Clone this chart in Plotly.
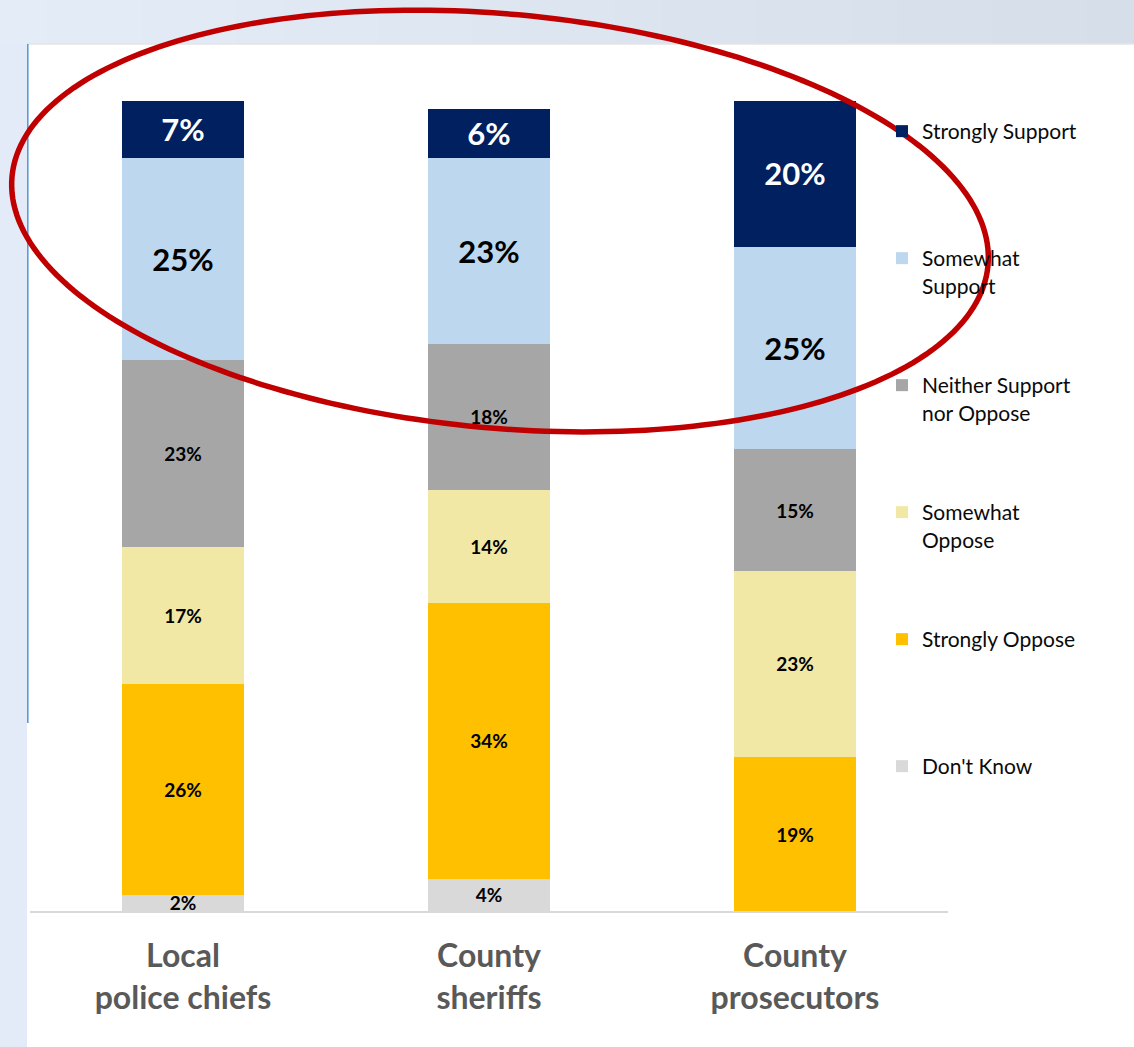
import numpy as np
import plotly.graph_objects as go

# ---------------- data ----------------
categories = ["Local police chiefs", "County sheriffs", "County prosecutors"]
tick_labels = ["Local<br>police chiefs", "County<br>sheriffs", "County<br>prosecutors"]

series_names = ["Strongly Support", "Somewhat Support", "Neither Support nor Oppose",
                "Somewhat Oppose", "Strongly Oppose", "Don't Know"]
legend_names = ["Strongly Support<br> ", "Somewhat<br>Support", "Neither Support<br>nor Oppose",
                "Somewhat<br>Oppose", "Strongly Oppose<br> ", "Don't Know<br> "]

strongly_support = [7, 6, 18.1]
somewhat_support = [25, 23, 25]
neither = [23, 18, 15]
somewhat_oppose = [17, 14, 23]
strongly_oppose = [26, 34, 19]
dont_know = [2, 4, 0]

strongly_support_labels = ["7%", "6%", "20%"]
somewhat_support_labels = ["25%", "23%", "25%"]
neither_labels = ["23%", "18%", "15%"]
somewhat_oppose_labels = ["17%", "14%", "23%"]
strongly_oppose_labels = ["26%", "34%", "19%"]
dont_know_labels = ["2%", "4%", ""]

# ---------------- style ----------------
colors = ["#002060", "#BDD7EE", "#A6A6A6", "#F2E8A5", "#FFC000", "#D9D9D9"]
text_colors = ["white", "black", "black", "black", "black", "black"]
text_sizes = [31, 31, 19, 19, 19, 19]
FONT = "Lato"

W, H = 1134, 1047
ML, MR, MT, MB = 30, 186, 101, 136
PW, PH = W - ML - MR, H - MT - MB


def px_x(px):
    return (px - ML) / PW


def px_y(py):
    return (H - MB - py) / PH


values = [strongly_support, somewhat_support, neither, somewhat_oppose, strongly_oppose, dont_know]
labels = [strongly_support_labels, somewhat_support_labels, neither_labels,
          somewhat_oppose_labels, strongly_oppose_labels, dont_know_labels]

fig = go.Figure()
# add bottom-to-top so the stack order matches
for i in reversed(range(len(series_names))):
    fig.add_trace(go.Bar(
        x=categories,
        y=values[i],
        name=legend_names[i],
        legendgroup=series_names[i],
        legendrank=i + 1,
        marker=dict(color=colors[i], line=dict(width=0)),
        text=labels[i],
        textposition="inside",
        insidetextanchor="middle",
        textangle=0,
        constraintext="none",
        textfont=dict(family=FONT, size=text_sizes[i], color=text_colors[i], weight="bold"),
        hoverinfo="skip",
        width=0.4,
    ))

shapes = []
# page background: top band with slight gradient
n_strips = 24
c0 = np.array([0xE3, 0xEC, 0xF7])
c1 = np.array([0xD6, 0xDE, 0xEA])
for k in range(n_strips):
    f = k / (n_strips - 1)
    c = (c0 * (1 - f) + c1 * f).round().astype(int)
    x0p = k * W / n_strips
    x1p = (k + 1) * W / n_strips + 1
    shapes.append(dict(type="rect", xref="paper", yref="paper",
                       x0=px_x(x0p), x1=px_x(x1p), y0=px_y(44), y1=px_y(0),
                       fillcolor="rgb(%d,%d,%d)" % tuple(c), line=dict(width=0), layer="below"))
# left band
shapes.append(dict(type="rect", xref="paper", yref="paper",
                   x0=px_x(0), x1=px_x(27), y0=px_y(H), y1=px_y(44),
                   fillcolor="#E2EBF7", line=dict(width=0), layer="below"))
# panel top edge
shapes.append(dict(type="line", xref="paper", yref="paper",
                   x0=px_x(27), x1=px_x(W), y0=px_y(44), y1=px_y(44),
                   line=dict(color="#E4E4E4", width=1.5), layer="below"))
# thin blue vertical line
shapes.append(dict(type="line", xref="paper", yref="paper",
                   x0=px_x(27.8), x1=px_x(27.8), y0=px_y(44), y1=px_y(723),
                   line=dict(color="#5B9BD5", width=1.6), layer="below"))

# red ellipse highlight
cx, cy, a, b, th = 500, 221, 490, 207, np.deg2rad(5.2)
t = np.linspace(0, 2 * np.pi, 241)
ex = cx + a * np.cos(t) * np.cos(th) - b * np.sin(t) * np.sin(th)
ey = cy + a * np.cos(t) * np.sin(th) + b * np.sin(t) * np.cos(th)
path = "M " + " L ".join("%.5f,%.5f" % (px_x(u), px_y(v)) for u, v in zip(ex, ey)) + " Z"
shapes.append(dict(type="path", xref="paper", yref="paper", path=path,
                   line=dict(color="#C00000", width=5.5), layer="above"))

fig.update_layout(
    width=W, height=H,
    margin=dict(l=ML, r=MR, t=MT, b=MB, pad=0),
    paper_bgcolor="white",
    plot_bgcolor="white",
    barmode="stack",
    bargap=0.6,
    shapes=shapes,
    showlegend=True,
    legend=dict(
        x=px_x(882), xanchor="left",
        y=px_y(111), yanchor="top",
        traceorder="grouped",
        tracegroupgap=69.4,
        valign="top",
        font=dict(family=FONT, size=21, color="#0A0A0A"),
        bgcolor="rgba(0,0,0,0)",
        borderwidth=0,
        itemclick=False, itemdoubleclick=False,
    ),
    xaxis=dict(
        type="category",
        categoryorder="array", categoryarray=categories,
        tickmode="array", tickvals=categories, ticktext=tick_labels,
        range=[-0.5, 2.5],
        showgrid=False, zeroline=False,
        showline=True, linecolor="#D9D9D9", linewidth=1.5,
        ticks="outside", ticklen=16, tickcolor="rgba(0,0,0,0)",
        tickfont=dict(family=FONT, size=32, color="#595959", weight="bold"),
        fixedrange=True,
    ),
    yaxis=dict(
        range=[0, 100],
        showgrid=False, zeroline=False, showline=False,
        showticklabels=False, ticks="",
        fixedrange=True,
    ),
    font=dict(family=FONT),
)

fig.write_html("out.html", config={"displayModeBar": False},
               post_script="document.body.style.margin='0px';document.body.style.overflow='hidden';")
